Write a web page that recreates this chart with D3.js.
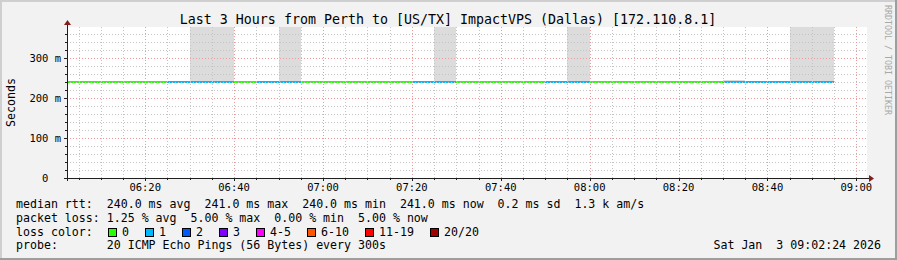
<!DOCTYPE html>
<html><head><meta charset="utf-8">
<script src="https://cdn.jsdelivr.net/npm/d3@7/dist/d3.min.js"></script>
<style>html,body{margin:0;padding:0;background:#f2f2f2;}svg{display:block;}</style>
</head><body>
<svg id="c" width="897" height="260"></svg>
<script>
// ---- data ----
const title = "Last 3 Hours from Perth to [US/TX] ImpactVPS (Dallas) [172.110.8.1]";
const stepStarts = ["06:00","06:05","06:10","06:15","06:20","06:25","06:30","06:35","06:40","06:45","06:50","06:55",
  "07:00","07:05","07:10","07:15","07:20","07:25","07:30","07:35","07:40","07:45","07:50","07:55",
  "08:00","08:05","08:10","08:15","08:20","08:25","08:30","08:35","08:40","08:45","08:50"];
const medianMs = [240,240,240,240,240,240,240,240,240,240,240,240,
  240,240,240,240,240,240,240,240,240,240,240,240,
  240,240,240,240,240,240,241,241,241,241,241];
const lossCount = [0,0,0,0,0,1,1,1,0,1,1,0,
  0,0,0,0,1,1,0,0,0,0,1,1,
  0,0,0,0,0,0,1,1,1,1,1];
const smokeLoMs = [239,239,239,239,239,239,239,239,239,239,239,239,
  239,239,239,239,239,239,239,239,239,239,239,239,
  239,239,239,239,239,239,240,240,240,240,240];
const smokeHiMs = [241,241,241,241,241,241,900,900,241,241,900,241,
  241,241,241,241,241,900,241,241,241,241,241,900,
  241,241,241,241,241,241,244,242,242,900,900];
const yTicks = [0,100,200,300];
const yTickLabels = ["0  ","100 m","200 m","300 m"];
const lossLabels = ["0","1","2","3","4-5","6-10","11-19","20/20"];
const lossColors = ["#26ff00","#00b8ff","#0059ff","#7e00ff","#ff00ff","#ff5500","#ff0000","#a10000"];
const lossThresholds = [0,1,2,3,5,10,19,20];
const legendLines = [
  "median rtt:  240.0 ms avg  241.0 ms max  240.0 ms min  241.0 ms now  0.2 ms sd  1.3 k am/s",
  "packet loss: 1.25 % avg  5.00 % max  0.00 % min  5.00 % now",
  "loss color:",
  "probe:       20 ICMP Echo Pings (56 Bytes) every 300s"
];
const dateStamp = "Sat Jan  3 09:02:24 2026";
const startTime = "2026-01-03T06:02:24Z", endTime = "2026-01-03T09:02:24Z";
const yMaxMs = 377.5;

// ---- layout ----
const W = 897, H = 260;
const L = 67, R = 867, T = 27, B = 178;
const mono = "'DejaVu Sans Mono', monospace";
const svg = d3.select("#c");

const parse = d3.utcParse("%Y-%m-%dT%H:%M:%SZ");
const t0 = parse(startTime), t1 = parse(endTime);
const x = d3.scaleUtc().domain([t0, t1]).range([L, R]);
const y = d3.scaleLinear().domain([0, yMaxMs]).range([B, T]);
const stepDate = s => parse("2026-01-03T" + s + ":00Z");

// background + shaded frame
svg.append("rect").attr("width", W).attr("height", H).attr("fill", "#f2f2f2");
svg.append("path").attr("d", `M0,0H${W}V2H2V${H}H0Z`).attr("fill", "#cfcfcf");
svg.append("path").attr("d", `M${W},${H}H0V${H-2}H${W-2}V0H${W}Z`).attr("fill", "#9e9e9e");

// canvas
svg.append("rect").attr("x", L).attr("y", T).attr("width", R - L).attr("height", B - T).attr("fill", "#fff");
svg.append("clipPath").attr("id", "clip").append("rect").attr("x", L).attr("y", T).attr("width", R - L).attr("height", B - T);
const plot = svg.append("g").attr("clip-path", "url(#clip)");

// smoke
const steps = stepStarts.map((s, i) => ({ t: stepDate(s), e: d3.utcMinute.offset(stepDate(s), 5), med: medianMs[i], loss: lossCount[i], lo: smokeLoMs[i], hi: smokeHiMs[i] }));
plot.selectAll("rect.smoke").data(steps).join("rect").attr("class", "smoke")
  .attr("x", d => x(d.t)).attr("width", d => x(d.e) - x(d.t))
  .attr("y", d => y(Math.min(d.hi, yMaxMs + 5))).attr("height", d => y(d.lo) - y(Math.min(d.hi, yMaxMs + 5)))
  .attr("fill", "#dcdcdc").attr("shape-rendering", "crispEdges");

// grid
const minorX = d3.utcMinute.every(5).range(t0, t1).filter(d => d.getUTCMinutes() % 20 !== 0);
const majorX = d3.utcMinute.every(20).range(t0, t1);
const minorY = d3.range(20, yMaxMs, 20).filter(v => v % 100 !== 0);
const majorY = yTicks.filter(v => v > 0);
const gridG = svg.append("g").attr("shape-rendering", "crispEdges");
gridG.selectAll("line.mx").data(minorX).join("line")
  .attr("x1", d => Math.round(x(d)) + 0.5).attr("x2", d => Math.round(x(d)) + 0.5).attr("y1", T).attr("y2", B)
  .attr("stroke", "#c4c4c4").attr("stroke-dasharray", "1,2");
gridG.selectAll("line.my").data(minorY).join("line")
  .attr("y1", d => Math.round(y(d)) + 0.5).attr("y2", d => Math.round(y(d)) + 0.5).attr("x1", L).attr("x2", R)
  .attr("stroke", "#c4c4c4").attr("stroke-dasharray", "1,2");
gridG.selectAll("line.Mx").data(majorX).join("line")
  .attr("x1", d => Math.round(x(d)) + 0.5).attr("x2", d => Math.round(x(d)) + 0.5).attr("y1", T).attr("y2", B)
  .attr("stroke", "#ee9a9a").attr("stroke-dasharray", "1,2");
gridG.selectAll("line.My").data(majorY).join("line")
  .attr("y1", d => Math.round(y(d)) + 0.5).attr("y2", d => Math.round(y(d)) + 0.5).attr("x1", L).attr("x2", R)
  .attr("stroke", "#ee9a9a").attr("stroke-dasharray", "1,2");

// median line, colored by loss
const lossColor = n => { for (let i = 0; i < lossThresholds.length; i++) if (n <= lossThresholds[i]) return lossColors[i]; return lossColors[lossColors.length - 1]; };
plot.selectAll("line.med").data(steps).join("line").attr("class", "med")
  .attr("x1", d => x(d.t)).attr("x2", d => x(d.e))
  .attr("y1", d => y(d.med)).attr("y2", d => y(d.med))
  .attr("stroke", d => lossColor(d.loss)).attr("stroke-width", 2).attr("shape-rendering", "crispEdges");

// axes
const axisG = svg.append("g").attr("shape-rendering", "crispEdges");
axisG.append("line").attr("x1", L - 3).attr("x2", R + 2).attr("y1", B + 0.5).attr("y2", B + 0.5).attr("stroke", "#1f1f1f");
axisG.append("line").attr("x1", L + 0.5).attr("x2", L + 0.5).attr("y1", B + 3).attr("y2", T - 2).attr("stroke", "#1f1f1f");
const allX = d3.utcMinute.every(5).range(t0, t1);
axisG.selectAll("line.tx").data(allX).join("line")
  .attr("x1", d => Math.round(x(d)) + 0.5).attr("x2", d => Math.round(x(d)) + 0.5)
  .attr("y1", B + 1).attr("y2", d => d.getUTCMinutes() % 20 === 0 ? B + 3 : B + 2).attr("stroke", "#1f1f1f");
const allY = d3.range(0, yMaxMs, 20);
axisG.selectAll("line.ty").data(allY).join("line")
  .attr("y1", d => Math.round(y(d)) + 0.5).attr("y2", d => Math.round(y(d)) + 0.5)
  .attr("x1", L).attr("x2", d => d % 100 === 0 ? L - 3 : L - 2).attr("stroke", "#1f1f1f");
// arrows
svg.append("path").attr("d", `M${L - 3},${T - 2}L${L + 0.5},${T - 7}L${L + 4},${T - 2}Z`).attr("fill", "#801f1f");
svg.append("path").attr("d", `M${R + 2},${B - 3}L${R + 7},${B + 0.5}L${R + 2},${B + 4}Z`).attr("fill", "#801f1f");

// tick labels
svg.selectAll("text.xl").data(majorX).join("text")
  .attr("x", d => x(d)).attr("y", 191).attr("text-anchor", "middle")
  .attr("font-family", mono).attr("font-size", "10.5px").attr("fill", "#000")
  .text(d3.utcFormat("%H:%M"));
svg.selectAll("text.yl").data(yTicks).join("text")
  .attr("x", 61).attr("y", d => y(d) + 3.8).attr("text-anchor", "end")
  .attr("font-family", mono).attr("font-size", "10.5px").attr("fill", "#000")
  .style("white-space", "pre")
  .text((d, i) => yTickLabels[i]);

// title and labels
svg.append("text").attr("x", 448).attr("y", 23.5).attr("text-anchor", "middle")
  .attr("font-family", mono).attr("font-size", "13.3px").attr("fill", "#000").text(title);
svg.append("text").attr("transform", `translate(14.5,${(T + B) / 2}) rotate(-90)`).attr("text-anchor", "middle")
  .attr("font-family", mono).attr("font-size", "11.6px").attr("fill", "#000").text("Seconds");
svg.append("text").attr("transform", `translate(885,5) rotate(90)`).attr("text-anchor", "start")
  .attr("font-family", mono).attr("font-size", "8.3px").attr("fill", "#a8a8a8").text("RRDTOOL / TOBI OETIKER");

// legend
const cw = 7.0;
const legY = [208, 222, 235.5, 249];
legendLines.forEach((s, i) => {
  svg.append("text").attr("x", 16).attr("y", legY[i]).style("white-space", "pre")
    .attr("font-family", mono).attr("font-size", "11.6px").attr("fill", "#000").text(s);
});
let cx = 108;
lossLabels.forEach((lab, i) => {
  svg.append("rect").attr("x", cx + 0.5).attr("y", 228.5).attr("width", 8).attr("height", 8)
    .attr("fill", lossColors[i]).attr("stroke", "#000").attr("shape-rendering", "crispEdges");
  svg.append("text").attr("x", cx + 14).attr("y", legY[2])
    .attr("font-family", mono).attr("font-size", "11.6px").attr("fill", "#000").text(lab);
  cx += 30 + lab.length * cw;
});
svg.append("text").attr("x", 881).attr("y", legY[3]).attr("text-anchor", "end").style("white-space", "pre")
  .attr("font-family", mono).attr("font-size", "11.6px").attr("fill", "#000").text(dateStamp);
</script>
</body></html>
